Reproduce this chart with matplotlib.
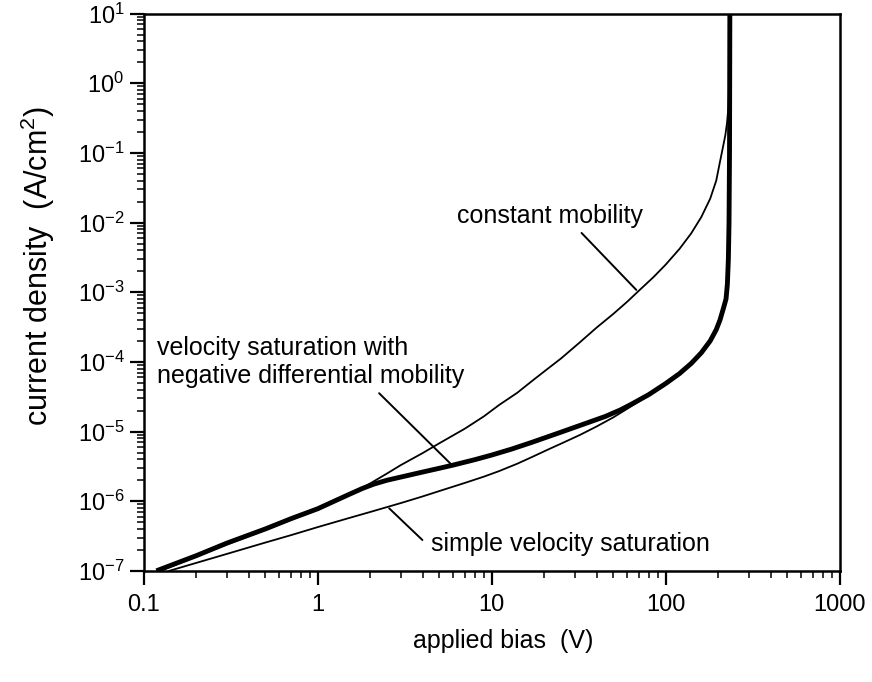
import matplotlib
matplotlib.use('Agg')
import matplotlib.pyplot as plt
import matplotlib.ticker as ticker
import numpy as np

plt.rcParams['font.family'] = ['Liberation Sans', 'DejaVu Sans']
plt.rcParams['mathtext.fontset'] = 'custom'
plt.rcParams['mathtext.rm'] = 'Liberation Sans'
plt.rcParams['mathtext.it'] = 'Liberation Sans'

# %%
# curves: applied bias (V) vs current density (A/cm2)
v_const = [0.124, 0.2, 0.3, 0.5, 0.7, 1, 1.5, 2, 2.5, 3, 4, 5, 7, 9, 11, 14,
           17, 21, 25, 32, 40, 50, 60, 70, 85, 100, 120, 140, 160, 180, 195,
           205, 213, 220, 225, 229, 231, 232.5, 233.5]
j_const = [1e-7, 1.6e-7, 2.4e-7, 3.9e-7, 5.4e-7, 7.8e-7, 1.22e-6, 1.8e-6,
           2.5e-6, 3.3e-6, 4.9e-6, 6.8e-6, 1.1e-5, 1.65e-5, 2.4e-5, 3.6e-5,
           5.3e-5, 8e-5, 1.12e-4, 1.9e-4, 3.1e-4, 4.9e-4, 7.3e-4, 1.05e-3,
           1.65e-3, 2.5e-3, 4.2e-3, 7e-3, 1.2e-2, 2.2e-2, 4e-2, 7.5e-2, 0.12,
           0.18, 0.27, 0.45, 0.8, 2, 10]

v_ndm = [0.118, 0.2, 0.3, 0.5, 0.7, 1, 1.5, 1.8, 2.1, 2.5, 3, 4, 5, 6, 8, 10,
         13, 17, 25, 35, 45, 55, 65, 80, 100, 120, 140, 160, 180, 195, 205,
         215, 222, 226, 229, 231, 232.5, 233, 233.5]
j_ndm = [1e-7, 1.65e-7, 2.5e-7, 4.0e-7, 5.6e-7, 7.8e-7, 1.24e-6, 1.52e-6,
         1.76e-6, 2.0e-6, 2.22e-6, 2.62e-6, 2.97e-6, 3.3e-6, 3.95e-6, 4.6e-6,
         5.6e-6, 7.0e-6, 9.8e-6, 1.32e-5, 1.65e-5, 2.05e-5, 2.55e-5, 3.4e-5,
         4.9e-5, 6.8e-5, 9.5e-5, 1.35e-4, 2.0e-4, 2.9e-4, 4.0e-4, 6.0e-4,
         8e-4, 1.3e-3, 3e-3, 1e-2, 0.1, 1, 10]

v_simple = [0.14, 0.2, 0.3, 0.5, 0.7, 1, 1.5, 2, 3, 4, 5, 7, 9, 11, 14, 17,
            21, 25, 32, 40, 50, 60, 70, 80, 100, 120, 140, 160, 180, 195,
            205, 215, 222, 226, 229, 231, 232.5, 233, 233.5]
j_simple = [1e-7, 1.3e-7, 1.75e-7, 2.55e-7, 3.25e-7, 4.25e-7, 5.7e-7, 7.0e-7,
            9.4e-7, 1.17e-6, 1.4e-6, 1.83e-6, 2.25e-6, 2.7e-6, 3.45e-6,
            4.3e-6, 5.5e-6, 6.7e-6, 8.9e-6, 1.18e-5, 1.6e-5, 2.12e-5, 2.7e-5,
            3.35e-5, 4.9e-5, 6.8e-5, 9.5e-5, 1.35e-4, 2.0e-4, 2.9e-4, 4.0e-4,
            6.0e-4, 8e-4, 1.3e-3, 3e-3, 1e-2, 0.1, 1, 10]

x_ticks = [0.1, 1, 10, 100, 1000]
x_ticklabels = ['0.1', '1', '10', '100', '1000']
y_exps = [-7, -6, -5, -4, -3, -2, -1, 0, 1]

# %%
fig = plt.figure(figsize=(8.72, 6.82), dpi=100)
ax = fig.add_axes([0.165, 0.163, 0.798, 0.817])

ax.plot(v_const, j_const, color='black', lw=1.3)
ax.plot(v_simple, j_simple, color='black', lw=1.3)
ax.plot(v_ndm, j_ndm, color='black', lw=3.5, solid_capstyle='butt')

ax.set_xscale('log')
ax.set_yscale('log')
ax.set_xlim(0.1, 1000)
ax.set_ylim(1e-7, 10)

ax.set_xticks(x_ticks)
ax.set_xticklabels(x_ticklabels)
ax.set_yticks([10.0**e for e in y_exps])
ax.set_yticklabels([r'$\mathregular{10^{%d}}$' % e for e in y_exps])
ax.xaxis.set_minor_locator(ticker.LogLocator(base=10, subs=np.arange(2, 10)))
ax.yaxis.set_minor_locator(ticker.LogLocator(base=10, subs=np.arange(2, 10)))
ax.xaxis.set_minor_formatter(ticker.NullFormatter())
ax.yaxis.set_minor_formatter(ticker.NullFormatter())

ax.tick_params(which='major', direction='out', length=10, width=1.6,
               labelsize=17, pad=7)
ax.tick_params(axis='y', which='major', pad=4)
ax.tick_params(which='minor', direction='out', length=5, width=1.1)
for s in ax.spines.values():
    s.set_linewidth(1.8)

fig.text(503 / 872, 1 - 641 / 682, 'applied bias  (V)', fontsize=18,
         ha='center', va='center')
fig.text(38 / 872, 1 - 266 / 682, r'current density  (A/cm$\mathregular{^2}$)',
         fontsize=22, rotation=90, ha='center', va='center')

# %%
# labels with leader lines
lead = dict(arrowstyle='-', lw=1.4, color='black', shrinkA=0, shrinkB=0)
ax.text(6.3, 1.25e-2, 'constant mobility', fontsize=18, va='center')
ax.annotate('', xy=(67.7, 1.08e-3), xytext=(32.8, 7.1e-3), arrowprops=lead)

ax.text(0.119, 1.0e-4, 'velocity saturation with\nnegative differential mobility',
        fontsize=18, va='center', linespacing=1.2)
ax.annotate('', xy=(5.9, 3.3e-6), xytext=(2.25, 3.55e-5), arrowprops=lead)

ax.text(4.5, 2.45e-7, 'simple velocity saturation', fontsize=18, va='center')
ax.annotate('', xy=(3.99, 2.77e-7), xytext=(2.57, 7.9e-7), arrowprops=lead)

fig.savefig('out.png', dpi=100)
